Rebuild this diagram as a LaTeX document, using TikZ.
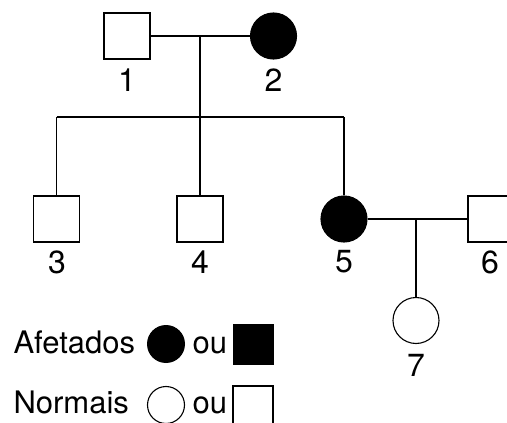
\documentclass[tikz,border=0pt]{standalone}
\usepackage{fontspec}
\setmainfont{TeX Gyre Heros}
\usepackage{tikz}
\usetikzlibrary{positioning,calc}

\begin{document}
\begin{tikzpicture}[
x=1pt, y=-1pt, line width=1.1pt,
malenode/.style={rectangle, draw=black, fill=white, minimum size=46pt, inner sep=0pt},
femalenode/.style={circle, draw=black, fill=white, minimum size=46pt, inner sep=0pt},
affected/.style={fill=black},
numlabel/.style={font=\fontsize{32}{32}\selectfont, inner sep=0pt},
legtext/.style={font=\fontsize{31}{31}\selectfont, inner sep=0pt, anchor=base west},
]
\useasboundingbox (0,0) rectangle (507,423);
\coordinate (m12) at (200,36);
\coordinate (s3) at (56.5,117);
\coordinate (s5) at (344,117);
\coordinate (m56) at (416,219);

\node[malenode] (p1) at (127,36) {};
\node[femalenode, affected] (p2) at (273.5,36) {};
\node[malenode] (p3) at (56.5,219) {};
\node[malenode] (p4) at (200,219) {};
\node[femalenode, affected] (p5) at (344,219) {};
\node[malenode] (p6) at (491,219) {};
\node[femalenode] (p7) at (416,320.5) {};

\draw (p1) -- (p2);
\draw (m12) -- (p4);
\draw (s3) -- (s5);
\draw (s3) -- (p3);
\draw (s5) -- (p5);
\draw (p5) -- (p6);
\draw (m56) -- (p7);

\node[numlabel] (l1) at (127,80) {1};
\node[numlabel] (l2) at (273.5,80) {2};
\node[numlabel] (l3) at (57,262) {3};
\node[numlabel] (l4) at (200,262) {4};
\node[numlabel] (l5) at (344,262) {5};
\node[numlabel] (l6) at (490,262) {6};
\node[numlabel] (l7) at (416,365) {7};

% legenda
\node[legtext] (afet) at (13,353) {Afetados};
\node[circle, fill=black, minimum size=38pt, inner sep=0pt] (afetc) at (166,344) {};
\node[legtext] (afetou) at (192,353) {ou};
\node[rectangle, fill=black, minimum size=41pt, inner sep=0pt] (afets) at (253,344) {};
\node[legtext] (norm) at (13,413) {Normais};
\node[circle, draw=black, minimum size=37pt, inner sep=0pt] (normc) at (166,405) {};
\node[legtext] (normou) at (192,413) {ou};
\node[rectangle, draw=black, minimum size=40pt, inner sep=0pt] (norms) at (253,406) {};
\end{tikzpicture}
\end{document}
